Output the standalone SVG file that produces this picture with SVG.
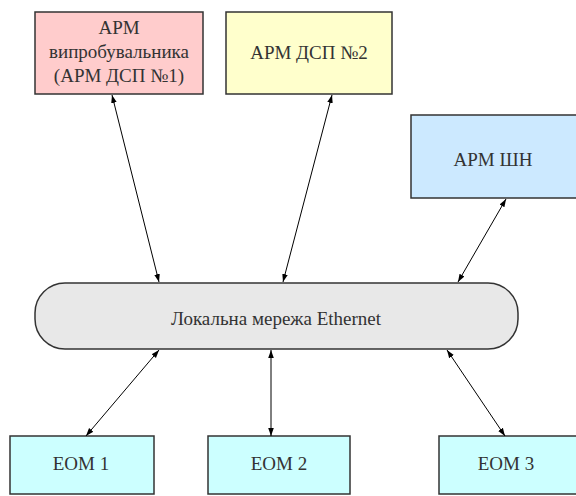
<svg xmlns="http://www.w3.org/2000/svg" width="576" height="496" viewBox="0 0 576 496">
<defs>
<marker id="ah" viewBox="0 0 10 10" refX="10" refY="5" markerWidth="8" markerHeight="8" markerUnits="userSpaceOnUse" orient="auto-start-reverse">
<path d="M0,1.5 L10,5 L0,8.5 Z" fill="#000"/>
</marker>
</defs>
<style>
.box{stroke:#333;stroke-width:1.5}
.t{font-family:"Liberation Serif","Times New Roman",serif;font-size:19px;fill:#333;text-anchor:middle}
.c{stroke:#000;stroke-width:1;fill:none;marker-start:url(#ah);marker-end:url(#ah)}
</style>
<rect width="576" height="496" fill="#fff"/>
<g id="arm1">
<rect class="box" x="35" y="12" width="168" height="82" fill="#FFCCCC"/>
<text class="t" x="119" y="34">АРМ</text>
<text class="t" x="119" y="58">випробувальника</text>
<text class="t" x="119" y="82">(АРМ ДСП №1)</text>
</g>
<g id="arm2">
<rect class="box" x="226" y="12" width="166" height="82" fill="#FFFFCC"/>
<text class="t" x="309" y="59">АРМ ДСП №2</text>
</g>
<g id="armshn">
<rect class="box" x="411" y="115" width="170" height="83" fill="#CCE9FF"/>
<text class="t" x="493" y="166">АРМ ШН</text>
</g>
<g id="ethernet">
<rect class="box" x="35" y="283" width="483" height="66" rx="30" ry="30" fill="#E8E8E8"/>
<text class="t" x="276" y="325">Локальна мережа Ethernet</text>
</g>
<g id="eom1">
<rect class="box" x="10" y="436" width="144" height="58" fill="#CCFFFF"/>
<text class="t" x="81" y="470">EOM 1</text>
</g>
<g id="eom2">
<rect class="box" x="208" y="436" width="142" height="58" fill="#CCFFFF"/>
<text class="t" x="279" y="470">EOM 2</text>
</g>
<g id="eom3">
<rect class="box" x="439" y="436" width="150" height="58" fill="#CCFFFF"/>
<text class="t" x="506" y="470">EOM 3</text>
</g>
<g id="connectors">
<line class="c" x1="112" y1="95" x2="159" y2="282"/>
<line class="c" x1="332" y1="95" x2="283" y2="282"/>
<line class="c" x1="506" y1="199" x2="458" y2="282"/>
<line class="c" x1="159" y1="350" x2="86" y2="436"/>
<line class="c" x1="271" y1="350" x2="271" y2="436"/>
<line class="c" x1="447" y1="350" x2="505" y2="436"/>
</g>
</svg>
